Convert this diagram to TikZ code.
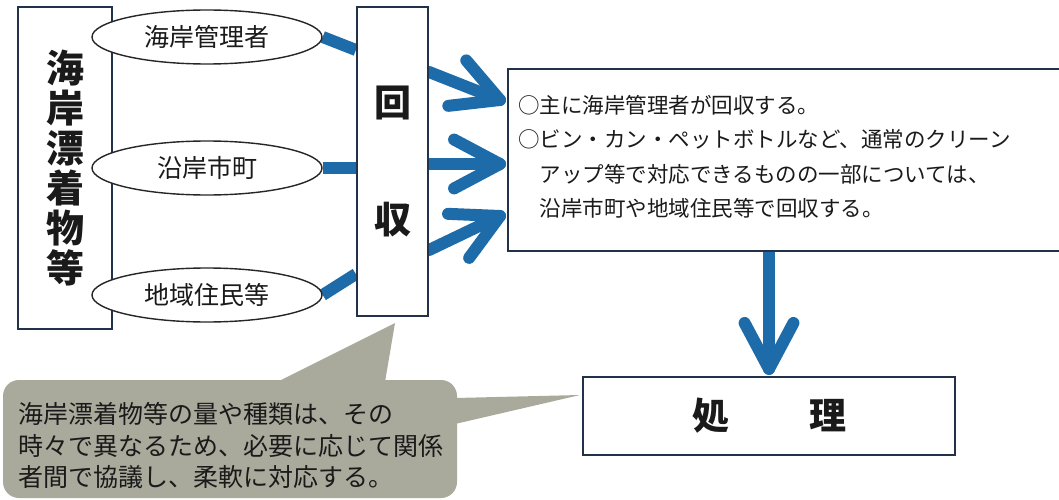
\documentclass[tikz,border=0pt]{standalone}
\usepackage{fontspec}
\setmainfont{Noto Sans CJK JP}
\usetikzlibrary{shapes.geometric,calc}
\definecolor{boxline}{HTML}{22324A}
\definecolor{arrowblue}{HTML}{1E6BAA}
\definecolor{callfill}{HTML}{A9AA9C}
\definecolor{ink}{HTML}{1A1A1A}
\pgfdeclarelayer{background}
\pgfsetlayers{background,main}
\begin{document}
\begin{tikzpicture}[x=1pt,y=-1pt,
  box/.style={draw=boxline, line width=2.2pt, fill=white, inner sep=0pt, text=ink},
  ell/.style={ellipse, draw=black!85, line width=1.4pt, fill=white,
    minimum width=230pt, minimum height=54pt, inner sep=0pt, text=ink,
    font=\fontsize{25}{28}\selectfont},
  bl/.style={draw=arrowblue, line width=12pt, line cap=round, line join=round},
  conn/.style={draw=arrowblue, line width=12pt, line cap=butt},
  calloutbox/.style={fill=callfill, rounded corners=16pt, inner sep=0pt,
    minimum width=454pt, minimum height=118pt},
]
\useasboundingbox (0,0) rectangle (1059,500);

% main boxes
\node[box, minimum width=94pt, minimum height=322pt, align=center,
  font=\fontsize{38}{40}\selectfont\bfseries] (src) at (65,168)
  {海\\岸\\漂\\着\\物\\等};
\node[ell] (e1) at (207,37) {海岸管理者};
\node[ell] (e2) at (207,168) {沿岸市町};
\node[ell] (e3) at (207,295) {地域住民等};
\node[box, minimum width=71pt, minimum height=309pt, align=center,
  font=\fontsize{37}{117}\selectfont\bfseries] (kaishu) at (392.5,161.5)
  {回\\収};
\node[box, minimum width=560pt, minimum height=182pt, anchor=north west] (info) at (507,68) {};
\node[anchor=west, align=left, inner sep=0pt, text=ink,
  font=\fontsize{21.5}{34.5}\selectfont] (infotext) at (518,157)
  {○主に海岸管理者が回収する。\\
   ○ビン・カン・ペットボトルなど、通常のクリーン\\
   　アップ等で対応できるものの一部については、\\
   　沿岸市町や地域住民等で回収する。};
\node[box, minimum width=372pt, minimum height=78pt,
  font=\fontsize{37}{40}\selectfont\bfseries] (chuli) at (769,416)
  {処\hspace{80pt}理};

% callout
\node[calloutbox] (note) at (230,439) {};
\fill[callfill] (277,382) -- (395,323) -- (385,382) -- cycle;
\fill[callfill] (455,398) -- (580,395) -- (455,424) -- cycle;
\node[anchor=west, align=left, inner sep=0pt, text=ink,
  font=\fontsize{25}{31.5}\selectfont] (notetext) at (18,446)
  {海岸漂着物等の量や種類は、その\\
   時々で異なるため、必要に応じて関係\\
   者間で協議し、柔軟に対応する。};

% connectors
\begin{pgfonlayer}{background}
\draw[conn] (e1.east) -- (kaishu.west |- 0,50);
\draw[conn] (e2.east) -- (kaishu.west |- e2.east);
\draw[conn] (e3.east) -- (kaishu.west |- 0,274);

\coordinate (a1s) at (kaishu.east |- 0,72);
\coordinate (a1e) at ([xshift=-7pt]info.west |- 0,100);
\coordinate (a2s) at (kaishu.east |- 0,164);
\coordinate (a2e) at ([xshift=-7pt]info.west |- 0,164);
\coordinate (a3s) at (kaishu.east |- 0,250);
\coordinate (a3e) at ([xshift=-7pt]info.west |- 0,216);
\coordinate (a4s) at (info.south -| chuli.north);
\coordinate (a4e) at ([yshift=7pt]chuli.north);
\foreach \s/\e in {a1s/a1e,a2s/a2e,a3s/a3e,a4s/a4e}{
  \draw[bl] (\s) -- (\e);
  \draw[bl] ($(\e)!52pt!28:(\s)$) -- (\e) -- ($(\e)!52pt!-28:(\s)$);
}
\end{pgfonlayer}
\end{tikzpicture}
\end{document}
